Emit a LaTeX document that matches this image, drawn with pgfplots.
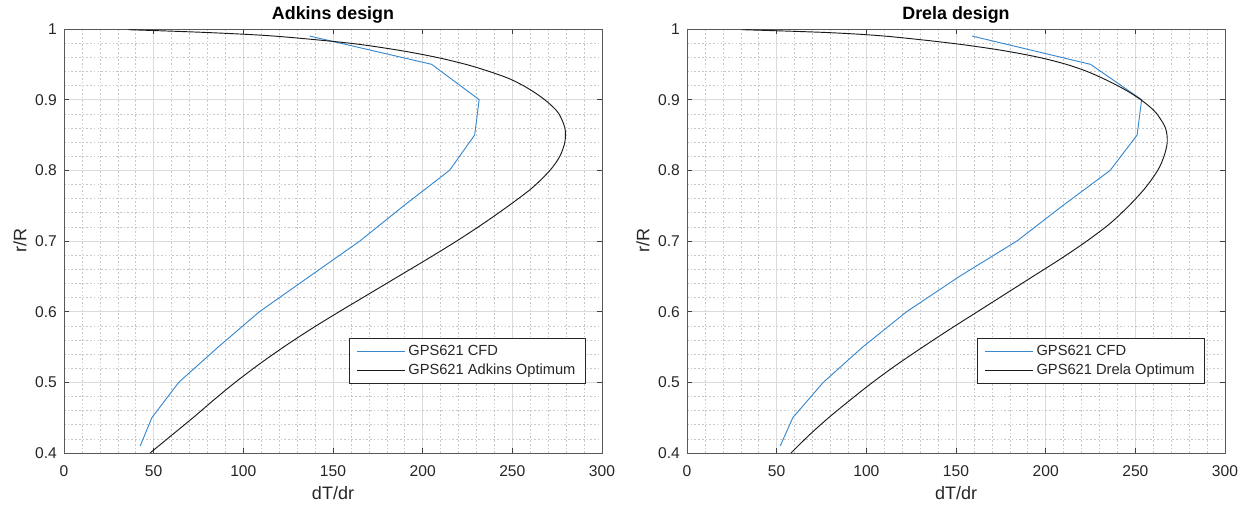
\documentclass[border=0pt]{standalone}
\usepackage{fontspec}
\setmainfont{Liberation Sans}
\usepackage{pgfplots}
\pgfplotsset{compat=1.18}
\definecolor{mblue}{RGB}{55,136,205}
\definecolor{axgray}{RGB}{38,38,38}
\pgfplotsset{
  every axis title shift=0pt,
  mystyle/.style={
    scale only axis, width=403.5pt, height=318pt,
    anchor=south west,
    xmin=0, xmax=300, ymin=0.4, ymax=1,
    xtick={0,50,...,300}, ytick={0.4,0.5,...,1.0},
    yticklabels={0.4,0.5,0.6,0.7,0.8,0.9,1},
    minor x tick num=4, minor y tick num=4,
    grid=both,
    major grid style={color=black!14, line width=0.5pt},
    minor grid style={color=black!22, line width=0.4pt, dash pattern=on 1.2pt off 1.6pt},
    axis line style={color=black!65, line width=0.6pt},
    tick align=inside, major tick length=3.75pt, minor tick length=0pt,
    tick style={color=black!75, line width=0.5pt},
    /pgf/number format/assume math mode=true,
    tick label style={font=\fontsize{11.7}{13}\selectfont, color=axgray},
    xticklabel style={yshift=-6pt},
    yticklabel style={xshift=-1.8pt},
    label style={font=\fontsize{13.5}{15}\selectfont, color=axgray},
    xlabel style={at={(axis description cs:0.5,0)}, anchor=center, yshift=-30pt},
    ylabel style={at={(axis description cs:0,0.5)}, anchor=center, yshift=33pt},
    title style={font=\bfseries\fontsize{13.4}{15}\selectfont, at={(axis description cs:0.5,1)}, anchor=south, yshift=0.5pt},
    xlabel={dT/dr}, ylabel={r/R},
    legend cell align=left,
    legend image code/.code={\draw[#1] (0pt,0pt) -- (36pt,0pt);},
    legend style={anchor=north east, draw=axgray, line width=0.6pt, fill=white,
      font=\fontsize{11}{13}\selectfont, inner xsep=5.5pt, inner ysep=3pt,
      row sep=1pt, text=axgray},
  }
}
\begin{document}
\begin{tikzpicture}
\useasboundingbox (0,0) rectangle (933.75pt,379.5pt);
\begin{axis}[mystyle, at={(48pt,39.75pt)}, title={Adkins design},
  legend style={at={(rel axis cs:0.970,0.2705)}}]
\addplot[color=mblue, line width=0.7pt] coordinates {
(42.5,0.41) (49,0.45) (64,0.50) (86,0.55) (109,0.60) (137,0.65) (165,0.70)
(189.5,0.75) (215,0.80) (229,0.85) (231.5,0.90) (205,0.95) (137,0.99)};
\addlegendentry{GPS621 CFD}
\addplot[color=black!90, line width=0.7pt, smooth] coordinates {
(48,0.400) (60,0.425) (72,0.450) (83.5,0.475) (95.5,0.500) (108.5,0.525)
(122.5,0.550) (137.5,0.575) (153.5,0.600) (170,0.625) (186.5,0.650) (203,0.675)
(219,0.700) (234,0.725) (248,0.750) (261,0.775) (271,0.800) (276.5,0.820)
(279.3,0.840) (279.3,0.860) (276,0.880) (272.5,0.890) (268,0.900) (262.5,0.910)
(256,0.920) (248,0.930) (237,0.940) (224,0.950) (207.5,0.960) (186.5,0.970)
(159,0.980) (117,0.990) (80,0.995) (36,0.999)};
\addlegendentry{GPS621 Adkins Optimum}
\end{axis}
\begin{axis}[mystyle, at={(515.25pt,39.75pt)}, title={Drela design},
  legend style={at={(rel axis cs:0.963,0.271)}}]
\addplot[color=mblue, line width=0.7pt] coordinates {
(52,0.41) (59,0.45) (76,0.50) (98,0.55) (122.5,0.60) (152,0.65) (184,0.70)
(209.5,0.75) (236,0.80) (251,0.85) (253.5,0.90) (225,0.95) (159,0.99)};
\addlegendentry{GPS621 CFD}
\addplot[color=black!90, line width=0.7pt, smooth] coordinates {
(58,0.400) (68,0.425) (79,0.450) (91,0.475) (103.5,0.500) (117,0.525)
(131.5,0.550) (146.5,0.575) (162,0.600) (177.5,0.625) (193,0.650) (208.5,0.675)
(223,0.700) (236,0.725) (246.5,0.750) (255.5,0.775) (262.5,0.800) (266,0.820)
(267.8,0.840) (266.8,0.860) (262,0.880) (258,0.890) (253,0.900) (247,0.910)
(240,0.920) (232,0.930) (223,0.940) (211.5,0.950) (196,0.960) (175,0.970)
(147,0.980) (110,0.990) (78,0.995) (31,0.999)};
\addlegendentry{GPS621 Drela Optimum}
\end{axis}
\end{tikzpicture}
\end{document}
